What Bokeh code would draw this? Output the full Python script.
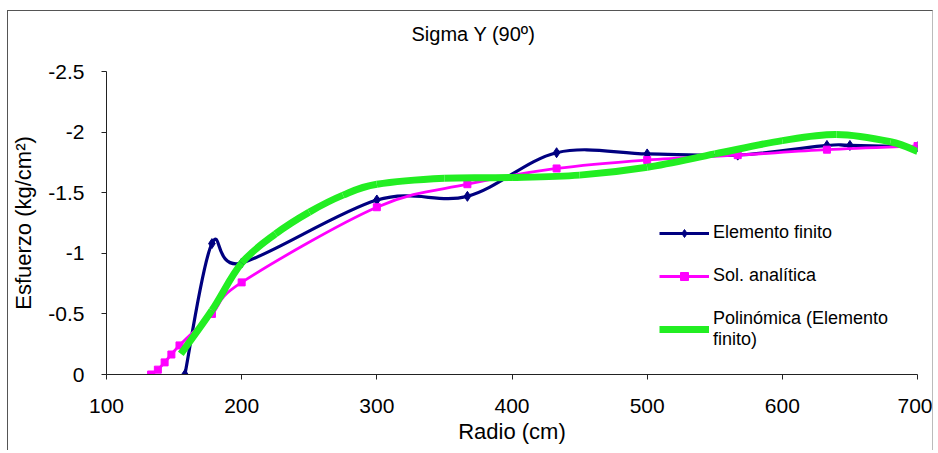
import numpy as np
from bokeh.plotting import figure
from bokeh.models import Range1d, FixedTicker, Legend, LegendItem, Title
from bokeh.embed import file_html
from bokeh.resources import INLINE

# ---- data ----
radio_fe = [158, 178, 200, 300, 367, 433, 500, 567, 633, 650, 700]
sigma_fe = [0.0, -1.08, -0.92, -1.44, -1.47, -1.83, -1.82, -1.81, -1.89, -1.89, -1.88]

radio_an = [133, 138, 143, 148, 154, 178, 200, 300, 367, 433, 500, 567, 633, 700]
sigma_an = [0.0, -0.04, -0.10, -0.165, -0.24, -0.50, -0.76, -1.38, -1.57, -1.70, -1.77, -1.81, -1.855, -1.885]

radio_poly = [155, 178, 200, 225, 250, 275, 300, 350, 400, 450, 500, 550, 600, 640, 680, 700]
sigma_poly = [-0.17, -0.53, -0.92, -1.16, -1.34, -1.48, -1.57, -1.62, -1.625, -1.645, -1.71, -1.82, -1.93, -1.98, -1.92, -1.84]

x_ticks = [100, 200, 300, 400, 500, 600, 700]
y_ticks = [0, -0.5, -1, -1.5, -2, -2.5]
y_tick_labels = ["0", "-0.5", "-1", "-1.5", "-2", "-2.5"]

title_text = "Sigma Y (90º)"
x_label = "Radio (cm)"
y_label = "Esfuerzo (kg/cm²)"
names = ["Elemento finito", "Sol. analítica", "Polinómica (Elemento\nfinito)"]

FONT = "Liberation Sans"


def smooth_segments(xs, ys):
    """Bezier control points for a smoothed (Catmull-Rom style) line through the points."""
    x = np.asarray(xs, float)
    y = np.asarray(ys, float)
    n = len(x)
    d = dict(x0=[], y0=[], x1=[], y1=[], cx0=[], cy0=[], cx1=[], cy1=[])
    for i in range(n - 1):
        i0 = max(i - 1, 0)
        i3 = min(i + 2, n - 1)
        d["x0"].append(x[i]); d["y0"].append(y[i])
        d["x1"].append(x[i + 1]); d["y1"].append(y[i + 1])
        d["cx0"].append(x[i] + (x[i + 1] - x[i0]) / 6.0)
        d["cy0"].append(y[i] + (y[i + 1] - y[i0]) / 6.0)
        d["cx1"].append(x[i + 1] - (x[i3] - x[i]) / 6.0)
        d["cy1"].append(y[i + 1] - (y[i3] - y[i]) / 6.0)
    return d


p = figure(width=926, height=440, output_backend="svg", toolbar_location=None,
           x_range=Range1d(100, 700), y_range=Range1d(0, -2.5),
           min_border_left=96, min_border_right=17, min_border_top=60, min_border_bottom=77,
           styles={"margin-left": "7px", "margin-top": "10px",
                   "border-left": "1px solid #555555", "border-top": "1px solid #555555",
                   "border-right": "1px solid #bbbbbb"})
p.xgrid.visible = False
p.ygrid.visible = False
p.outline_line_color = None
p.background_fill_color = "white"
p.border_fill_color = "white"

# spacer between the title and the plot area
p.add_layout(Title(text=" ", text_font_size="1px", standoff=20), "above")

p.title.text = title_text
p.title.text_font = FONT
p.title.text_font_size = "20px"
p.title.text_font_style = "normal"
p.title.text_color = "black"
p.title.align = "left"
p.title.offset = 305
p.title.vertical_align = "top"
p.title.standoff = 4

for ax in (p.xaxis[0], p.yaxis[0]):
    ax.axis_line_color = "#222222"
    ax.major_tick_line_color = "#222222"
    ax.major_tick_in = 0
    ax.major_tick_out = 5
    ax.minor_tick_line_color = None
    ax.major_label_text_font = FONT
    ax.major_label_text_font_size = "21px"
    ax.major_label_text_color = "black"
    ax.axis_label_text_font = FONT
    ax.axis_label_text_font_size = "22px"
    ax.axis_label_text_font_style = "normal"
    ax.axis_label_text_color = "black"

p.xaxis.ticker = FixedTicker(ticks=x_ticks)
p.yaxis.ticker = FixedTicker(ticks=y_ticks)
p.yaxis.major_label_overrides = {t: l for t, l in zip(y_ticks, y_tick_labels)}
p.xaxis.axis_label = x_label
p.yaxis.axis_label = y_label
p.xaxis.major_label_standoff = 19
p.xaxis.axis_label_standoff = 3
p.yaxis.major_label_standoff = 17
p.yaxis.axis_label_standoff = 9

NAVY = "#000080"
PINK = "#ff00ff"
GREEN = "#22ee22"

s_fe = smooth_segments(radio_fe, sigma_fe)
r_fe_line = p.bezier(x0="x0", y0="y0", x1="x1", y1="y1", cx0="cx0", cy0="cy0", cx1="cx1", cy1="cy1",
                     source=s_fe, line_color=NAVY, line_width=3.2)
r_fe_pts = p.scatter(radio_fe, sigma_fe, marker="diamond", size=10, fill_color=NAVY, line_color=NAVY)

s_an = smooth_segments(radio_an, sigma_an)
r_an_line = p.bezier(x0="x0", y0="y0", x1="x1", y1="y1", cx0="cx0", cy0="cy0", cx1="cx1", cy1="cy1",
                     source=s_an, line_color=PINK, line_width=2.8)
r_an_pts = p.scatter(radio_an, sigma_an, marker="square", size=7, fill_color=PINK, line_color=PINK)

s_po = smooth_segments(radio_poly, sigma_poly)
r_po_line = p.bezier(x0="x0", y0="y0", x1="x1", y1="y1", cx0="cx0", cy0="cy0", cx1="cx1", cy1="cy1",
                     source=s_po, line_color=GREEN, line_width=7)

legend = Legend(items=[
    LegendItem(label=names[0], renderers=[r_fe_line, r_fe_pts]),
    LegendItem(label=names[1], renderers=[r_an_line, r_an_pts]),
    LegendItem(label=names[2], renderers=[r_po_line]),
], location=(553, 24))
legend.margin = 0
legend.padding = 0
legend.border_line_color = None
legend.background_fill_alpha = 0
legend.glyph_width = 50
legend.glyph_height = 20
legend.label_standoff = 4
legend.spacing = 22
legend.label_text_font = FONT
legend.label_text_font_size = "18px"
legend.label_text_line_height = 1.25
legend.label_text_color = "black"
p.add_layout(legend, "center")

open("out.html", "w").write(file_html(p, INLINE))
